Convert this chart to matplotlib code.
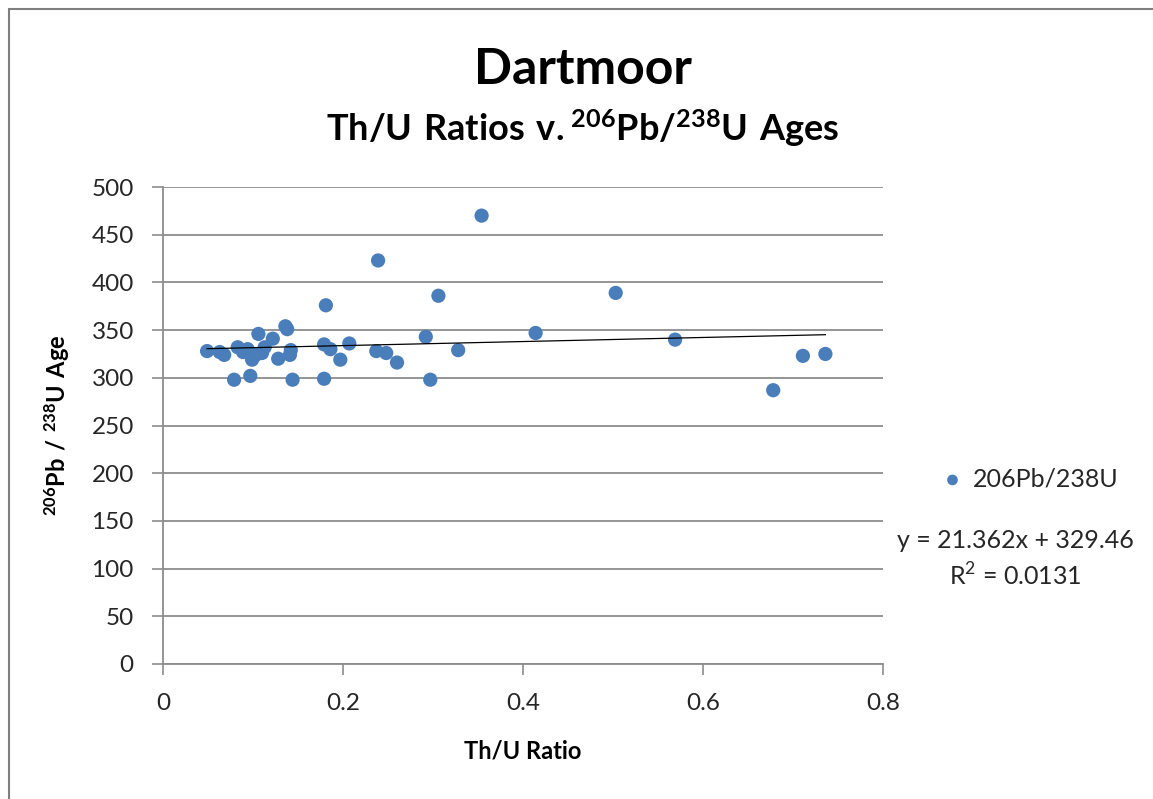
"""Dartmoor: Th/U ratios vs 206Pb/238U ages (Excel-style scatter with trendline)."""

import matplotlib
matplotlib.use('Agg')
import matplotlib.pyplot as plt
from matplotlib.patches import Rectangle

plt.rcParams['font.family'] = ['Lato', 'DejaVu Sans']
plt.rcParams['mathtext.fontset'] = 'custom'
plt.rcParams['mathtext.rm'] = 'Lato'
plt.rcParams['mathtext.bf'] = 'Lato:bold'

# ── data ──
th_u = [0.049, 0.063, 0.068, 0.079, 0.083, 0.089, 0.094, 0.097, 0.099, 0.103,
        0.106, 0.110, 0.113, 0.122, 0.128, 0.136, 0.138, 0.141, 0.142, 0.144,
        0.179, 0.179, 0.181, 0.186, 0.197, 0.207, 0.237, 0.239, 0.248, 0.260,
        0.292, 0.297, 0.306, 0.328, 0.354, 0.414, 0.503, 0.569, 0.678, 0.711,
        0.736]
age = [328, 327, 324, 298, 332, 327, 330, 302, 319, 324,
       346, 326, 332, 341, 320, 354, 351, 324, 329, 298,
       299, 335, 376, 330, 319, 336, 328, 423, 326, 316,
       343, 298, 386, 329, 470, 347, 389, 340, 287, 323,
       325]

slope = 21.362
intercept = 329.46
r_squared = 0.0131

x_ticks = [0, 0.2, 0.4, 0.6, 0.8]
x_tick_labels = ['0', '0.2', '0.4', '0.6', '0.8']
y_ticks = list(range(0, 501, 50))

blue = '#4A7EBB'
grid_gray = '#8C8C8C'
text_col = '#262626'

fig = plt.figure(figsize=(11.53, 7.99), dpi=100)

# chart-area border like Excel
fig.patches.append(Rectangle((9 / 1153, -0.05), 1.2, 1.05 - 9 / 799, transform=fig.transFigure,
                             fill=False, edgecolor='#7F7F7F', linewidth=1.5))

ax = fig.add_axes([163 / 1153, 135 / 799, 720 / 1153, 477 / 799])

ax.scatter(th_u, age, s=105, color=blue, edgecolors='none', zorder=3, label='206Pb/238U')

# linear trendline over the data range
x0, x1 = min(th_u), max(th_u)
ax.plot([x0, x1], [slope * x0 + intercept, slope * x1 + intercept],
        color='black', linewidth=0.9, zorder=4)

ax.set_xlim(0, 0.8)
ax.set_ylim(0, 500)
ax.set_xticks(x_ticks)
ax.set_xticklabels(x_tick_labels)
ax.set_yticks(y_ticks)
ax.tick_params(axis='both', labelsize=17.5, labelcolor=text_col, color=grid_gray,
               length=8, width=1.2, direction='out', pad=13)

ax.grid(True, axis='y', color=grid_gray, linewidth=1.3)
ax.set_axisbelow(True)
for side in ['top', 'right']:
    ax.spines[side].set_visible(False)
for side in ['left', 'bottom']:
    ax.spines[side].set_color(grid_gray)
    ax.spines[side].set_linewidth(1.3)

ax.set_xlabel('Th/U Ratio', fontsize=17, fontweight='bold', labelpad=18)
ax.set_ylabel(r'$\mathbf{{}^{206}Pb\ /\ {}^{238}U\ Age}$', fontsize=17, labelpad=14)

# titles
fig.text(583 / 1153, 1 - 70 / 799, 'Dartmoor', ha='center', va='center',
         fontsize=36, fontweight='bold')
fig.text(583 / 1153, 1 - 128 / 799, r'$\mathbf{Th/U\ Ratios\ v.{}^{206}Pb/{}^{238}U\ Ages}$',
         ha='center', va='center', fontsize=26)

# legend + trendline equation
fig.legend(handles=[ax.collections[0]], labels=['206Pb/238U'], loc='center left',
           bbox_to_anchor=(940 / 1153, 1 - 479 / 799), frameon=False, fontsize=18,
           markerscale=0.75, handlelength=1.0, handletextpad=0.3, borderaxespad=0,
           borderpad=0, labelcolor=text_col)
fig.text(1015 / 1153, 1 - 540 / 799, f'y = {slope:.3f}x + {intercept:.2f}',
         ha='center', va='center', fontsize=18, color=text_col)
fig.text(1015 / 1153, 1 - 576 / 799, f'R$^2$ = {r_squared:.4f}',
         ha='center', va='center', fontsize=18, color=text_col)

fig.savefig('out.png', dpi=100)
plt.close(fig)
